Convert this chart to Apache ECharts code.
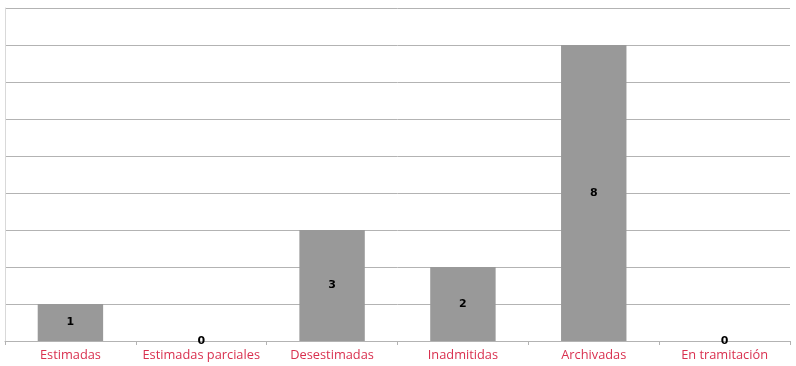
<!DOCTYPE html>
<html><head><meta charset="utf-8">
<script src="https://cdn.jsdelivr.net/npm/echarts@6/dist/echarts.min.js"></script>
<style>html,body{margin:0;padding:0;background:#fff}#c{width:796px;height:366px}</style>
</head><body><div id="c"></div>
<script>
const categories = ["Estimadas","Estimadas parciales","Desestimadas","Inadmitidas","Archivadas","En tramitación"];
const values = [1,0,3,2,8,0];
const yMax = 9;
const yInterval = 1;

const chart = echarts.init(document.getElementById('c'), null, {renderer:'canvas'});
chart.setOption({
  animation:false,
  grid:{left:5,right:6,top:8,bottom:25,containLabel:false},
  xAxis:{
    type:'category', data:categories,
    axisLine:{lineStyle:{color:'#b3b3b3',width:1}},
    axisTick:{show:true,length:4,lineStyle:{color:'#b3b3b3'}},
    axisLabel:{color:'#d9304f',fontFamily:'Open Sans',fontSize:12.8,margin:8,interval:0}
  },
  yAxis:{
    type:'value', min:0, max:yMax, interval:yInterval,
    axisLine:{show:true,lineStyle:{color:'#d9d9d9',width:1}},
    axisTick:{show:false},
    axisLabel:{show:false},
    splitLine:{lineStyle:{color:'#b3b3b3',width:1}}
  },
  series:[{
    type:'bar', data:values, barWidth:'50%',
    itemStyle:{color:'#999999'},
    label:{show:true,position:'inside',color:'#000',fontWeight:'bold',fontFamily:'DejaVu Sans',fontSize:11}
  }]
});
</script></body></html>
